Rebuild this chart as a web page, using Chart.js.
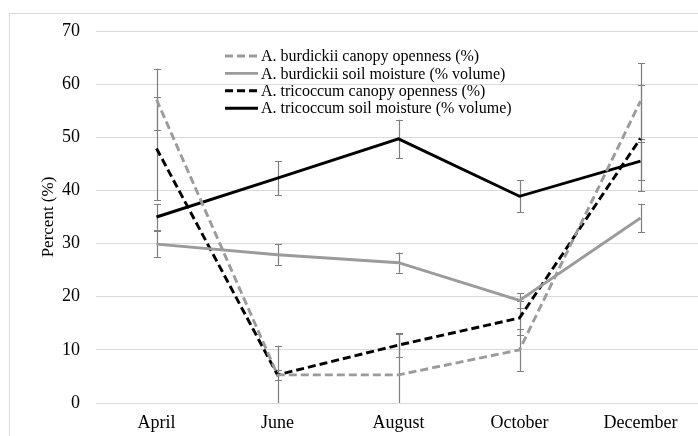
<!DOCTYPE html>
<html>
<head>
<meta charset="utf-8">
<script src="https://cdn.jsdelivr.net/npm/chart.js@4.4.1/dist/chart.umd.min.js"></script>
<style>
  html, body { margin: 0; padding: 0; background: #fff; overflow: hidden; }
  #wrap { position: absolute; left: 0; top: 0; width: 710px; height: 436px; }
</style>
</head>
<body>
<div id="wrap"><canvas id="grafico" width="710" height="436"></canvas></div>
<script>
// categorias del eje x
const meses = ['April', 'June', 'August', 'October', 'December'];

// series (valores medios)
const burdickiiCanopy = [57.1, 5.3, 5.3, 10.0, 56.8];
const burdickiiSoil = [29.9, 27.9, 26.4, 19.3, 34.8];
const tricoccumCanopy = [47.9, 5.3, 10.9, 16.0, 49.8];
const tricoccumSoil = [35.0, 42.3, 49.7, 38.9, 45.5];

// barras de error (+/-)
const errBurdickiiCanopy = [5.8, 1.0, 7.7, 4.0, 7.1];
const errBurdickiiSoil = [2.45, 2.0, 1.9, 1.4, 2.7];
const errTricoccumCanopy = [9.7, 5.5, 2.2, 3.2, 10.0];
const errTricoccumSoil = [2.4, 3.2, 3.6, 3.05, 3.6];

// etiquetas del eje y
const ticksY = [0, 10, 20, 30, 40, 50, 60, 70];

const serif = '"Liberation Serif", "Times New Roman", serif';
const gris = '#9b9b9b';
const negro = '#000000';

// Marco exterior gris claro
const marco = {
  id: 'marco',
  beforeDraw(chart) {
    const ctx = chart.ctx;
    ctx.save();
    ctx.strokeStyle = '#d9d9d9';
    ctx.lineWidth = 1;
    ctx.strokeRect(9.5, 13.5, chart.width + 20, chart.height + 20);
    ctx.restore();
  }
};

// Barras de error dibujadas con las escalas del grafico
const barrasError = {
  id: 'barrasError',
  beforeDatasetsDraw(chart) {
    const ctx = chart.ctx;
    const area = chart.chartArea;
    const y = chart.scales.y;
    ctx.save();
    ctx.beginPath();
    ctx.rect(area.left, area.top, area.right - area.left, area.bottom - area.top);
    ctx.clip();
    ctx.strokeStyle = '#7f7f7f';
    ctx.lineWidth = 1.2;
    chart.data.datasets.forEach((ds, i) => {
      const meta = chart.getDatasetMeta(i);
      meta.data.forEach((pt, j) => {
        const e = ds.errores[j];
        const v = ds.data[j];
        const x = Math.round(pt.x) + 0.5;
        const yTop = y.getPixelForValue(v + e);
        const yBot = y.getPixelForValue(v - e);
        ctx.beginPath();
        ctx.moveTo(x, yTop);
        ctx.lineTo(x, yBot);
        ctx.moveTo(x - 3.5, Math.round(yTop) + 0.5);
        ctx.lineTo(x + 3.5, Math.round(yTop) + 0.5);
        if (v - e >= 0) {
          ctx.moveTo(x - 3.5, Math.round(yBot) + 0.5);
          ctx.lineTo(x + 3.5, Math.round(yBot) + 0.5);
        }
        ctx.stroke();
      });
    });
    ctx.restore();
  }
};

// Leyenda dentro del area del grafico
const leyenda = {
  id: 'leyenda',
  afterDraw(chart) {
    const ctx = chart.ctx;
    ctx.save();
    ctx.font = '16px ' + serif;
    ctx.textBaseline = 'middle';
    ctx.textAlign = 'left';
    chart.data.datasets.forEach((ds, i) => {
      const yy = 56 + i * 17.4;
      ctx.strokeStyle = ds.borderColor;
      ctx.lineWidth = ds.borderWidth;
      ctx.setLineDash(ds.borderDash || []);
      ctx.beginPath();
      ctx.moveTo(225, yy);
      ctx.lineTo(258, yy);
      ctx.stroke();
      ctx.setLineDash([]);
      ctx.fillStyle = '#000';
      ctx.fillText(ds.label, 261, yy + 1);
    });
    ctx.restore();
  }
};

function serie(label, data, errores, color, dash) {
  return {
    label: label,
    data: data,
    errores: errores,
    borderColor: color,
    backgroundColor: color,
    borderWidth: 2.9,
    borderDash: dash,
    pointRadius: 0,
    tension: 0,
    fill: false
  };
}

new Chart(document.getElementById('grafico'), {
  type: 'line',
  data: {
    labels: meses,
    datasets: [
      serie('A. burdickii canopy openness (%)', burdickiiCanopy, errBurdickiiCanopy, gris, [8, 4]),
      serie('A. burdickii soil moisture (% volume)', burdickiiSoil, errBurdickiiSoil, gris, []),
      serie('A. tricoccum canopy openness (%)', tricoccumCanopy, errTricoccumCanopy, negro, [8, 4]),
      serie('A. tricoccum soil moisture (% volume)', tricoccumSoil, errTricoccumSoil, negro, [])
    ]
  },
  options: {
    responsive: false,
    animation: false,
    layout: { padding: { left: 0, top: 31, right: 9, bottom: 0 } },
    plugins: {
      legend: { display: false },
      tooltip: { enabled: false }
    },
    scales: {
      x: {
        offset: true,
        grid: { display: false, drawTicks: false },
        border: { display: false },
        ticks: {
          color: '#000',
          padding: 9,
          maxRotation: 0,
          font: { family: serif, size: 18, lineHeight: 1.2 }
        },
        afterFit(scale) { scale.height = 33; }
      },
      y: {
        min: 0,
        max: 70,
        afterBuildTicks(scale) { scale.ticks = ticksY.map(v => ({ value: v })); },
        grid: { color: '#d9d9d9', lineWidth: 1, drawTicks: false },
        border: { display: false },
        ticks: {
          color: '#000',
          padding: 16,
          font: { family: serif, size: 18 }
        },
        title: {
          display: true,
          text: 'Percent (%)',
          color: '#000',
          padding: { top: 38, bottom: 0 },
          font: { family: serif, size: 17, lineHeight: 1.2 }
        },
        afterFit(scale) { scale.width = 96; }
      }
    }
  },
  plugins: [marco, barrasError, leyenda]
});
</script>
</body>
</html>
